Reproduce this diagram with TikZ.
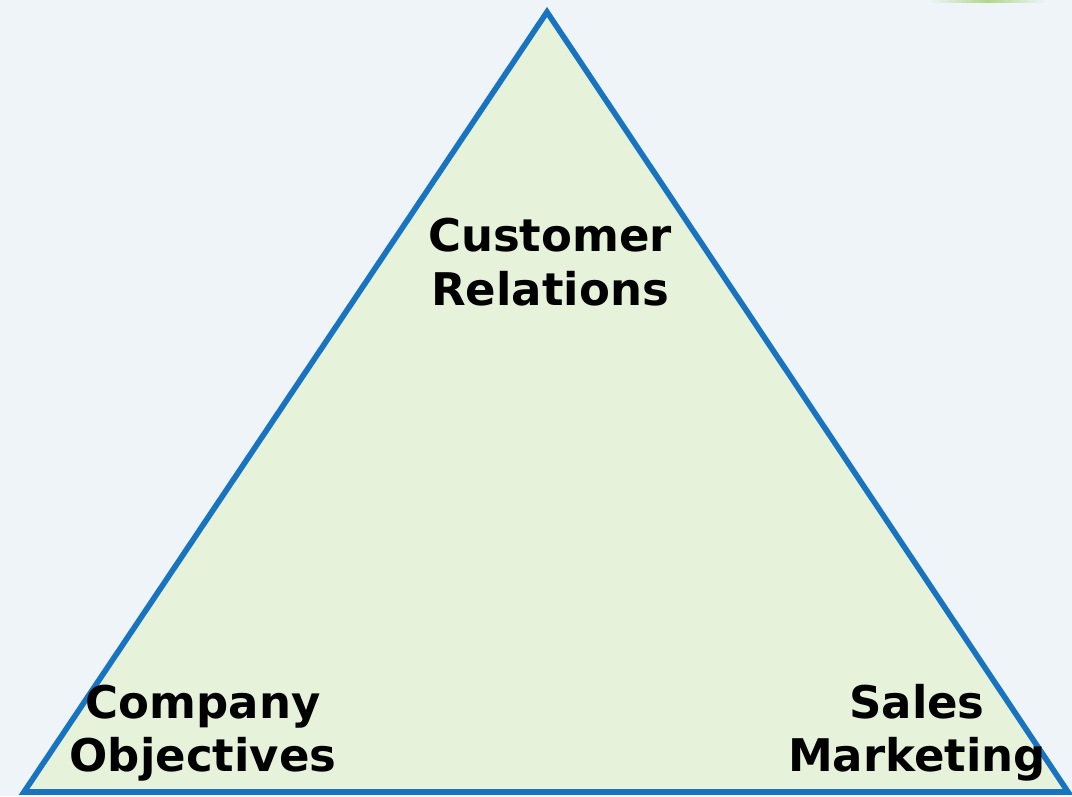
\documentclass[tikz,border=0pt]{standalone}
\usepackage{fontspec}
\setmainfont{DejaVu Sans}
\usetikzlibrary{positioning}
\definecolor{bgcol}{RGB}{238,244,248}
\definecolor{edgeblue}{RGB}{24,116,192}
\definecolor{fillgreen}{RGB}{230,242,218}
\definecolor{topgreen}{RGB}{175,215,140}

\begin{document}
\begin{tikzpicture}[x=0.025cm,y=-0.025cm,
  label/.style={align=center,font=\fontsize{32}{38}\selectfont\bfseries,inner sep=0pt}]
% background
\fill[bgcol] (0,0) rectangle (1072,796);
\useasboundingbox (0,0) rectangle (1072,796);
\fill[left color=bgcol,right color=bgcol,middle color=topgreen] (930,0) rectangle (1045,2.5);
% triangle
\coordinate (apex) at (547,12);
\coordinate (bl) at (24,792);
\coordinate (br) at (1068,792);
\draw[edgeblue,fill=fillgreen,line width=4pt,line join=miter] (apex) -- (bl) -- (br) -- cycle;
% labels
\node[label] (top) at (550,262) {Customer\\Relations};
\node[label] (left) at (203,733) {Company\\Objectives};
\node[label] (right) at (917,733) {Sales\\Marketing};
\end{tikzpicture}
\end{document}
